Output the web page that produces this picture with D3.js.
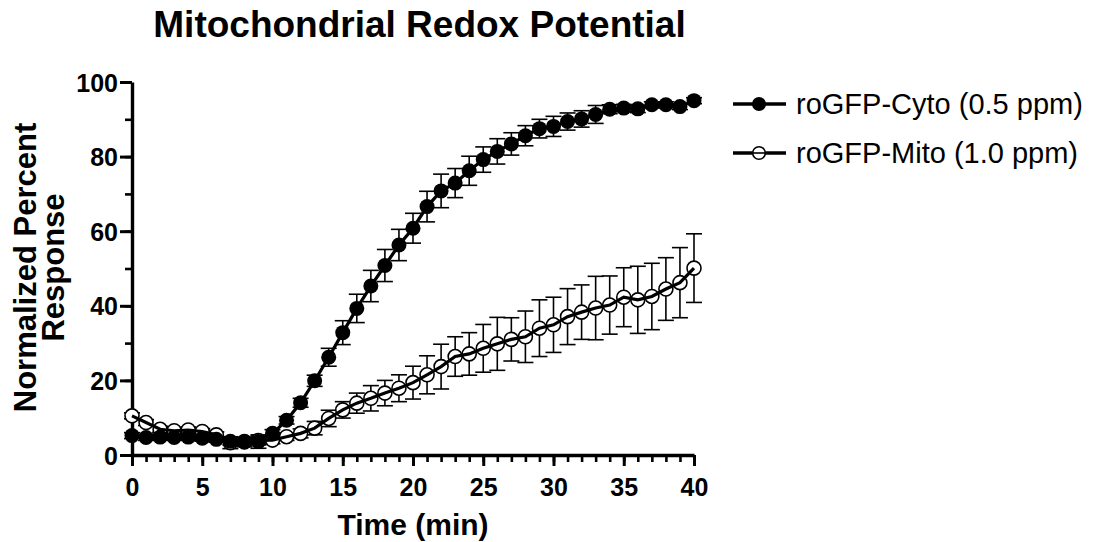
<!DOCTYPE html>
<html><head><meta charset="utf-8">
<script src="https://cdn.jsdelivr.net/npm/d3@7"></script>
<style>body{margin:0;background:#fff}svg{display:block}text{font-family:"Liberation Sans",Arial,sans-serif}</style>
</head><body>
<svg id="c" width="1116" height="542"></svg>
<script>
const times = d3.range(0, 41);
const cytoMean = [5.2,4.7,4.8,4.7,4.8,4.5,4.2,3.7,3.4,3.6,5.8,9.3,14.0,19.9,26.2,32.8,39.3,45.3,50.8,56.3,60.8,66.6,70.8,72.9,76.2,79.2,81.4,83.4,85.6,87.5,88.1,89.4,90.1,91.3,92.7,93.0,92.8,93.9,93.9,93.4,95.0];
const cytoErr = [0.8,0.8,0.8,0.8,0.8,0.8,0.8,1.0,1.2,1.8,1.0,1.0,1.2,1.5,2.4,3.2,3.8,4.2,4.3,4.2,4.0,4.1,4.5,3.9,3.9,3.4,3.4,3.0,2.7,2.5,2.7,2.3,2.2,2.4,1.2,1.0,1.0,0.8,0.8,0.8,0.8];
const mitoMean = [10.5,8.7,6.9,6.5,6.7,6.3,5.4,3.3,3.6,3.9,4.0,4.9,5.8,7.2,9.8,12.1,13.9,15.2,16.6,17.9,19.4,21.5,23.7,26.4,27.1,28.6,29.8,31.0,31.7,34.0,34.9,37.1,38.3,39.4,40.2,42.3,41.6,42.5,44.5,46.2,50.1];
const mitoErr = [0.8,0.8,0.8,0.8,0.8,0.8,0.8,1.6,1.2,1.2,1.0,1.0,1.2,1.8,2.2,2.2,2.7,3.4,3.4,3.6,4.4,5.1,6.0,5.3,5.7,6.4,7.1,5.8,6.9,7.6,7.4,7.5,7.3,8.5,7.8,7.9,9.0,8.9,8.4,9.4,9.2];
const seriesNames = ["roGFP-Cyto (0.5 ppm)", "roGFP-Mito (1.0 ppm)"];
const xTicks = [0,5,10,15,20,25,30,35,40];
const yTicks = [0,20,40,60,80,100];
const title = "Mitochondrial Redox Potential";
const xTitle = "Time (min)";
const yTitleLines = ["Normalized Percent", "Response"];

const svg = d3.select("#c");
const x = d3.scaleLinear().domain([0,40]).range([132,694]);
const y = d3.scaleLinear().domain([0,100]).range([455,82]);

const series = [
  {name: seriesNames[0], mean: cytoMean, err: cytoErr, filled: true},
  {name: seriesNames[1], mean: mitoMean, err: mitoErr, filled: false}
];

// title
svg.append("text").attr("x", 419.5).attr("y", 37).attr("text-anchor","middle")
  .attr("font-size", 37).attr("font-weight","bold").text(title);

// axes
const xAxisMinor = d3.axisBottom(x).tickValues(d3.range(0,41)).tickSize(7).tickFormat("");
const xAxis = d3.axisBottom(x).tickValues(xTicks).tickSize(11).tickPadding(4);
const yAxisMinor = d3.axisLeft(y).tickValues(d3.range(0,101,10)).tickSize(7).tickFormat("");
const yAxis = d3.axisLeft(y).tickValues(yTicks).tickSize(12).tickPadding(2);

function styleAxis(g){
  g.select(".domain").attr("stroke","#000").attr("stroke-width",3.4);
  g.selectAll(".tick line").attr("stroke","#000").attr("stroke-width",3);
  g.selectAll(".tick text").attr("fill","#000").attr("font-size",25).attr("font-weight","bold")
   .attr("font-family",'"Liberation Sans",Arial,sans-serif');
}
const gxm = svg.append("g").attr("transform","translate(0,455)").call(xAxisMinor);
gxm.select(".domain").remove(); gxm.selectAll(".tick line").attr("stroke","#000").attr("stroke-width",2.6);
const gym = svg.append("g").attr("transform","translate(132,0)").call(yAxisMinor);
gym.select(".domain").remove(); gym.selectAll(".tick line").attr("stroke","#000").attr("stroke-width",2.6);
const gx = svg.append("g").attr("transform","translate(0,455)").call(xAxis.tickSizeOuter(0)).call(styleAxis);
const gy = svg.append("g").attr("transform","translate(132,0)").call(yAxis.tickSizeOuter(0)).call(styleAxis);
gx.selectAll(".tick text").attr("dy","1.02em");
gy.selectAll(".tick text").attr("dy","0.36em");

// axis titles
svg.append("text").attr("x", x(20)).attr("y", 535).attr("text-anchor","middle")
  .attr("font-size",30).attr("font-weight","bold").text(xTitle);
const yt = svg.append("text").attr("transform", `translate(0,${y(50)-1}) rotate(-90)`)
  .attr("text-anchor","middle").attr("font-size",31).attr("font-weight","bold");
yt.append("tspan").attr("x",0).attr("y",36).text(yTitleLines[0]);
yt.append("tspan").attr("x",0).attr("y",64).text(yTitleLines[1]);

// plot series
const line = d3.line().x((d,i)=>x(times[i])).y(d=>y(d));
const capHalf = 8;
series.forEach(s => {
  const g = svg.append("g");
  const eb = g.selectAll("g.eb").data(s.mean.map((m,i)=>({t:times[i], m, e:s.err[i]}))).join("g");
  eb.append("line").attr("x1",d=>x(d.t)).attr("x2",d=>x(d.t)).attr("y1",d=>y(d.m+d.e)).attr("y2",d=>y(d.m-d.e))
    .attr("stroke","#000").attr("stroke-width",1.6);
  eb.append("line").attr("x1",d=>x(d.t)-capHalf).attr("x2",d=>x(d.t)+capHalf).attr("y1",d=>y(d.m+d.e)).attr("y2",d=>y(d.m+d.e))
    .attr("stroke","#000").attr("stroke-width",1.6);
  eb.append("line").attr("x1",d=>x(d.t)-capHalf).attr("x2",d=>x(d.t)+capHalf).attr("y1",d=>y(d.m-d.e)).attr("y2",d=>y(d.m-d.e))
    .attr("stroke","#000").attr("stroke-width",1.6);
});
series.slice().reverse().forEach(s => {
  const g = svg.append("g");
  g.selectAll("circle").data(s.mean).join("circle")
    .attr("cx",(d,i)=>x(times[i])).attr("cy",d=>y(d))
    .attr("r", s.filled ? 7.5 : 7.0)
    .attr("fill", s.filled ? "#000" : "#fff")
    .attr("stroke","#000").attr("stroke-width", s.filled ? 0 : 1.6);
  g.append("path").attr("d", line(s.mean)).attr("fill","none").attr("stroke","#000").attr("stroke-width",3.2);
});

// legend
const legY = [104, 153];
series.forEach((s,i) => {
  const g = svg.append("g").attr("transform",`translate(0,${legY[i]})`);
  g.append("line").attr("x1",733).attr("x2",786).attr("y1",0).attr("y2",0).attr("stroke","#000").attr("stroke-width",3.6);
  g.append("circle").attr("cx",759).attr("cy",0).attr("r", s.filled?7:6.3)
    .attr("fill", s.filled?"#000":"#fff").attr("stroke","#000").attr("stroke-width", s.filled?0:1.6);
  if(!s.filled) g.append("line").attr("x1",753).attr("x2",765).attr("y1",0).attr("y2",0).attr("stroke","#000").attr("stroke-width",1.6);
  g.append("text").attr("x",796).attr("y",0).attr("dy","0.36em").attr("font-size",29).text(s.name);
});
</script>
</body></html>
